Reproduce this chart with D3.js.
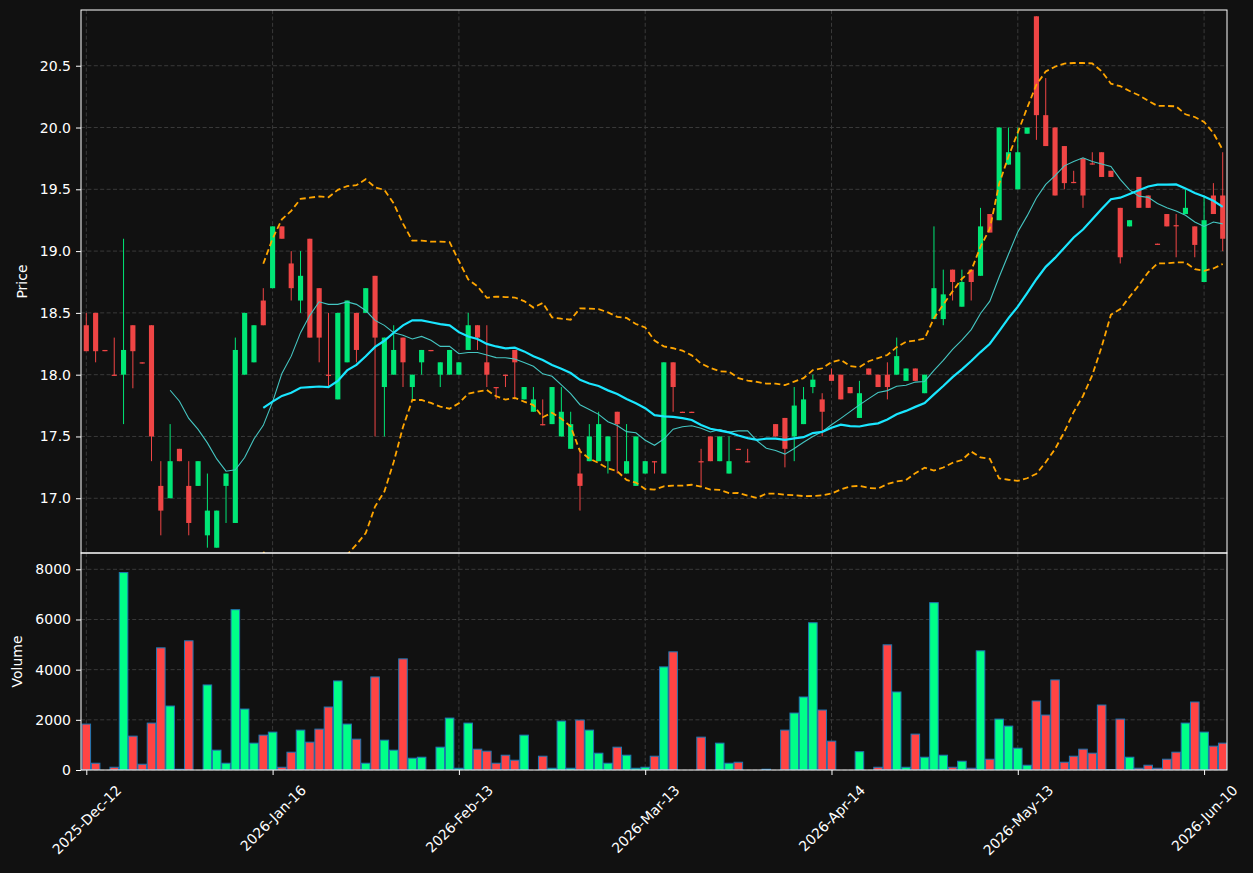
<!DOCTYPE html>
<html><head><meta charset="utf-8">
<script src="https://cdn.jsdelivr.net/npm/d3@7/dist/d3.min.js"></script>
<style>
html,body{margin:0;padding:0;background:#111111;}
svg{display:block;}
svg text{font-family:'DejaVu Sans',sans-serif !important;font-size:14px !important;fill:#ffffff;}
</style></head>
<body><svg id="chart" width="1253" height="873"></svg>
<script>
const opens = [18.40,18.50,18.20,18.00,18.00,18.40,18.10,18.40,17.10,17.00,
 17.40,17.10,17.10,16.70,16.60,17.10,16.80,18.00,18.10,18.60,
 18.70,19.20,18.90,18.60,19.10,18.70,18.00,17.80,18.10,18.50,
 18.50,18.80,17.90,18.00,18.30,17.90,18.10,18.20,18.00,18.00,
 18.00,18.20,18.40,18.10,17.90,18.00,18.20,17.80,17.70,17.60,
 17.60,17.50,17.40,17.20,17.30,17.30,17.30,17.70,17.20,17.10,
 17.20,17.30,17.20,18.10,17.70,17.70,17.30,17.50,17.30,17.20,
 17.40,17.30,17.30,17.30,17.60,17.65,17.50,17.60,17.90,17.80,
 18.00,18.00,17.90,17.65,18.05,18.00,18.00,18.00,17.95,18.05,
 17.85,18.45,18.45,18.85,18.55,18.85,18.80,19.30,19.25,19.70,
 19.50,19.95,20.90,20.10,20.00,19.85,19.56,19.75,19.71,19.80,
 19.65,19.35,19.20,19.60,19.45,19.06,19.30,19.21,19.30,19.20,
 18.75,19.45,19.45];
const highs = [18.50,18.50,18.20,18.30,19.10,18.40,18.10,18.40,17.30,17.60,
 17.40,17.30,17.30,17.20,16.90,17.20,18.30,18.50,18.40,18.70,
 19.20,19.20,19.00,19.00,19.10,18.70,18.50,18.50,18.60,18.50,
 18.70,18.80,18.30,18.40,18.30,18.00,18.20,18.20,18.10,18.20,
 18.10,18.50,18.40,18.40,17.90,18.00,18.20,17.90,17.90,17.80,
 17.90,17.90,17.70,17.40,17.60,17.70,17.50,17.70,17.60,17.50,
 17.30,17.30,18.10,18.10,17.70,17.70,17.40,17.50,17.50,17.50,
 17.40,17.40,17.30,17.30,17.60,17.65,17.90,17.90,18.00,17.85,
 18.05,18.00,17.90,17.95,18.05,18.00,18.10,18.30,18.05,18.05,
 18.00,19.20,18.85,18.85,18.85,18.85,19.35,19.30,20.00,20.00,
 20.00,20.00,20.90,20.40,20.00,19.85,19.65,19.75,19.80,19.80,
 19.65,19.35,19.25,19.60,19.45,19.06,19.30,19.30,19.50,19.20,
 19.45,19.55,19.80];
const lows = [18.19,18.10,18.19,17.99,17.60,17.89,18.09,17.30,16.70,17.00,
 17.30,16.70,17.10,16.60,16.60,16.80,16.80,18.00,18.10,18.40,
 18.70,19.10,18.60,18.50,18.30,18.10,17.90,17.80,18.10,18.10,
 18.50,17.50,17.50,18.00,17.90,17.80,18.00,18.19,17.90,18.00,
 18.00,18.20,18.20,17.90,17.80,17.90,17.80,17.80,17.70,17.59,
 17.60,17.50,17.40,16.90,17.30,17.30,17.20,17.20,17.20,17.10,
 17.20,17.20,17.20,17.70,17.69,17.69,17.10,17.30,17.30,17.20,
 17.39,17.29,17.30,17.30,17.50,17.25,17.30,17.60,17.85,17.50,
 17.95,17.80,17.85,17.65,18.00,17.90,17.80,18.00,17.95,17.95,
 17.85,18.45,18.40,18.60,18.55,18.60,18.80,19.15,19.25,19.70,
 19.50,19.95,19.90,19.85,19.45,19.50,19.55,19.35,19.70,19.60,
 19.60,18.90,19.20,19.35,19.35,19.05,19.20,18.95,19.30,18.95,
 18.75,19.30,19.00];
const closes = [18.19,18.19,18.19,17.99,18.20,18.19,18.09,17.50,16.90,17.30,
 17.30,16.80,17.30,16.90,16.90,17.20,18.20,18.50,18.40,18.40,
 19.20,19.10,18.70,18.80,18.30,18.30,17.99,18.50,18.60,18.20,
 18.70,18.30,18.30,18.20,18.10,18.00,18.20,18.19,18.10,18.20,
 18.10,18.40,18.30,18.00,17.89,17.99,18.10,17.90,17.80,17.59,
 17.90,17.70,17.60,17.10,17.50,17.60,17.50,17.60,17.30,17.50,
 17.30,17.29,18.10,17.90,17.69,17.69,17.29,17.30,17.50,17.30,
 17.39,17.29,17.30,17.30,17.50,17.40,17.75,17.80,17.96,17.70,
 17.95,17.80,17.85,17.85,18.00,17.90,17.90,18.15,18.05,17.95,
 18.00,18.70,18.65,18.75,18.75,18.75,19.20,19.15,20.00,19.80,
 19.80,20.00,20.10,19.85,19.45,19.55,19.55,19.45,19.70,19.60,
 19.60,18.95,19.25,19.35,19.35,19.05,19.20,19.20,19.35,19.05,
 19.25,19.30,19.10];
const volumes = [1830,270,0,110,7870,1350,230,1870,4870,2550,
 30,5150,0,3390,790,270,6390,2430,1070,1390,
 1510,110,710,1590,1110,1630,2510,3550,1830,1230,
 270,3710,1190,790,4430,470,510,0,910,2070,
 70,1870,830,750,270,590,390,1390,0,550,
 70,1950,70,1990,1590,670,270,910,590,70,
 110,550,4110,4710,0,0,1310,0,1070,270,
 310,0,0,30,0,1590,2270,2910,5870,2390,
 1150,0,0,730,0,110,4990,3110,110,1430,
 510,6670,590,110,350,70,4750,430,2030,1750,
 870,190,2750,2190,3590,310,550,830,670,2590,
 20,2030,510,70,190,70,430,710,1870,2710,
 1510,950,1070];
const tickIndex = [0,20,40,60,80,100,120];
const tickLabels = ["2025-Dec-12","2026-Jan-16","2026-Feb-13","2026-Mar-13","2026-Apr-14","2026-May-13","2026-Jun-10"];
const priceTicks = [17.0,17.5,18.0,18.5,19.0,19.5,20.0,20.5];
const volumeTicks = [0,2000,4000,6000,8000];

const W = 1253, H = 873;
const L = 81, R = 1227, PT = 10, PB = 553, VT = 553, VB = 770;
const UP = "#00e676", DN = "#ef4545", VUP = "#00ff88", VDN = "#ff4444";

const svg = d3.select("#chart");
svg.append("rect").attr("width", W).attr("height", H).attr("fill", "#111111");

const n = closes.length;
const idx = d3.range(n);
const xs = d3.scaleLinear().domain([-0.569, 122.46]).range([L, R]);
const yp = d3.scaleLinear().domain([16.557, 20.951]).range([PB, PT]);
const yv = d3.scaleLinear().domain([0, 8650]).range([VB, VT]);
const step = xs(1) - xs(0);

// rolling stats derived from closes
function rolling(win, fn) {
  return idx.map(i => i < win - 1 ? null : fn(closes.slice(i - win + 1, i + 1)));
}
const ma10 = rolling(10, a => d3.mean(a));
const ma20 = rolling(20, a => d3.mean(a));
const sd20 = rolling(20, a => { const m = d3.mean(a); return Math.sqrt(d3.mean(a, v => (v - m) * (v - m))); });
const bbUp = idx.map(i => ma20[i] == null ? null : ma20[i] + 2 * sd20[i]);
const bbLo = idx.map(i => ma20[i] == null ? null : ma20[i] - 2 * sd20[i]);

const defs = svg.append("defs");
defs.append("clipPath").attr("id", "cp").append("rect").attr("x", L).attr("y", PT).attr("width", R - L).attr("height", PB - PT);
defs.append("clipPath").attr("id", "cv").append("rect").attr("x", L).attr("y", VT).attr("width", R - L).attr("height", VB - VT);

// grids
const grid = svg.append("g").attr("stroke", "#3a3a3a").attr("stroke-width", 1).attr("stroke-dasharray", "4,2.4");
priceTicks.forEach(t => grid.append("line").attr("x1", L).attr("x2", R).attr("y1", yp(t)).attr("y2", yp(t)));
volumeTicks.forEach(t => grid.append("line").attr("x1", L).attr("x2", R).attr("y1", yv(t)).attr("y2", yv(t)));
tickIndex.forEach(t => {
  grid.append("line").attr("x1", xs(t)).attr("x2", xs(t)).attr("y1", PT).attr("y2", PB);
  grid.append("line").attr("x1", xs(t)).attr("x2", xs(t)).attr("y1", VT).attr("y2", VB);
});

// candles
const cg = svg.append("g").attr("clip-path", "url(#cp)");
const bw = step * 0.55;
idx.forEach(i => {
  const o = opens[i], c = closes[i], h = highs[i], l = lows[i];
  if (o === c && h === l) return;
  const col = c >= o ? UP : DN;
  const x = xs(i);
  if (h > l) cg.append("line").attr("x1", x).attr("x2", x).attr("y1", yp(h)).attr("y2", yp(l)).attr("stroke", col).attr("stroke-width", 1);
  const y1 = yp(Math.max(o, c)), y2 = yp(Math.min(o, c));
  cg.append("rect").attr("x", x - bw / 2).attr("y", y1).attr("width", bw).attr("height", Math.max(1, y2 - y1)).attr("fill", col);
});

// lines
const lineGen = arr => d3.line().defined(i => arr[i] != null).x(i => xs(i)).y(i => yp(arr[i]))(idx);
const lg = svg.append("g").attr("clip-path", "url(#cp)").attr("fill", "none");
lg.append("path").attr("d", lineGen(bbUp)).attr("stroke", "#ffa500").attr("stroke-width", 1.8).attr("stroke-dasharray", "6,3.4");
lg.append("path").attr("d", lineGen(bbLo)).attr("stroke", "#ffa500").attr("stroke-width", 1.8).attr("stroke-dasharray", "6,3.4");
lg.append("path").attr("d", lineGen(ma10)).attr("stroke", "#45c6c2").attr("stroke-width", 1.1);
lg.append("path").attr("d", lineGen(ma20)).attr("stroke", "#1ae6ff").attr("stroke-width", 2.2);

// volume
const vg = svg.append("g").attr("clip-path", "url(#cv)");
const vw = step * 0.92;
idx.forEach(i => {
  const v = volumes[i];
  if (!v) return;
  const col = closes[i] >= opens[i] ? VUP : VDN;
  vg.append("rect").attr("x", xs(i) - vw / 2).attr("y", yv(v)).attr("width", vw).attr("height", VB - yv(v))
    .attr("fill", col).attr("stroke", "#1f77b4").attr("stroke-width", 1);
});

// frames
svg.append("rect").attr("x", L).attr("y", PT).attr("width", R - L).attr("height", PB - PT).attr("fill", "none").attr("stroke", "#ffffff").attr("stroke-width", 1);
svg.append("rect").attr("x", L).attr("y", VT).attr("width", R - L).attr("height", VB - VT).attr("fill", "none").attr("stroke", "#ffffff").attr("stroke-width", 1);

// axes
function styleAxis(g) {
  g.select(".domain").remove();
  g.selectAll(".tick line").attr("stroke", "#ffffff");
}
svg.append("g").attr("transform", `translate(${L},0)`)
  .call(d3.axisLeft(yp).tickValues(priceTicks).tickFormat(d3.format(".1f")).tickSize(5).tickPadding(5)).call(styleAxis);
svg.append("g").attr("transform", `translate(${L},0)`)
  .call(d3.axisLeft(yv).tickValues(volumeTicks).tickFormat(d3.format("d")).tickSize(5).tickPadding(5)).call(styleAxis);
const gx = svg.append("g").attr("transform", `translate(0,${VB})`)
  .call(d3.axisBottom(xs).tickValues(tickIndex).tickFormat((d, i) => tickLabels[i]).tickSize(5).tickPadding(0)).call(styleAxis);
gx.selectAll(".tick text").each(function () {
  const t = d3.select(this);
  t.attr("y", 0).attr("dy", "0.35em").attr("text-anchor", "middle");
  const len = this.getComputedTextLength();
  const half = (len + 16) / (2 * Math.SQRT2);
  t.attr("transform", `translate(0,${12 + half}) rotate(-45)`);
});

// axis labels
svg.append("text").text("Price").attr("transform", `translate(22,${(PT + PB) / 2}) rotate(-90)`)
  .attr("text-anchor", "middle").attr("dy", "0.35em");
svg.append("text").text("Volume").attr("transform", `translate(17,${(VT + VB) / 2}) rotate(-90)`)
  .attr("text-anchor", "middle").attr("dy", "0.35em");
</script>
</body></html>
